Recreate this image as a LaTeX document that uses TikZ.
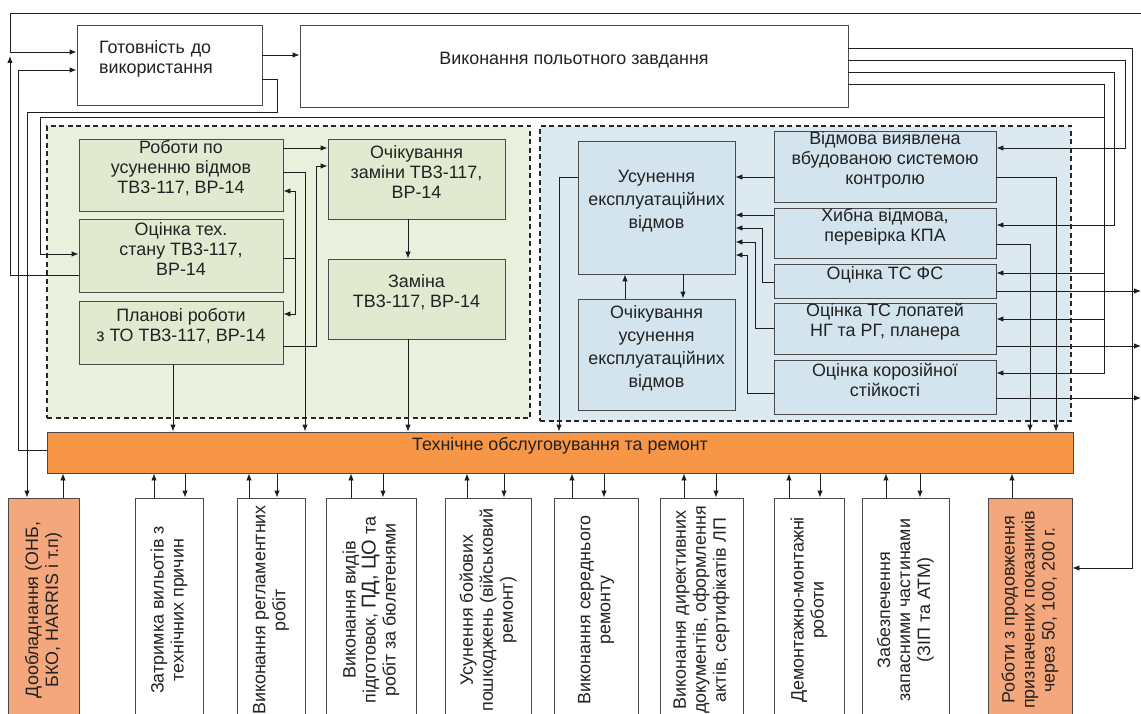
\documentclass[tikz,border=0pt]{standalone}
\usepackage{fontspec}
\setmainfont{Liberation Sans}
\usetikzlibrary{arrows.meta,fit}
\definecolor{txt}{HTML}{222222}
\definecolor{lc}{HTML}{1E1E1E}
\definecolor{bord}{HTML}{4A4A4A}
\definecolor{gregc}{HTML}{EAF0DE}
\definecolor{gboxc}{HTML}{E2E9D1}
\definecolor{bregc}{HTML}{DCE9F1}
\definecolor{bboxc}{HTML}{D3E4EE}
\definecolor{orc}{HTML}{F79646}
\definecolor{salc}{HTML}{F4A77C}
\begin{document}
\begin{tikzpicture}[x=1pt,y=-1pt,
  every node/.style={font=\fontsize{17.9}{20}\selectfont, text=txt, inner sep=0pt, align=center},
  wbox/.style={draw=bord, fill=white, line width=0.9pt},
  gbox/.style={draw=bord, fill=gboxc, line width=0.9pt},
  bbox/.style={draw=bord, fill=bboxc, line width=0.9pt},
  obox/.style={draw=bord, fill=orc, line width=0.9pt},
  sbox/.style={draw=bord, fill=salc, line width=0.9pt},
  vbx/.style={rotate=90, minimum width=224pt, minimum height=#1},
  region/.style={draw=black!85, dash pattern=on 5pt off 3.5pt, line width=1.1pt},
  conn/.style={draw=lc, line width=0.9pt},
  arr/.style={conn, -{Latex[length=7pt,width=5.5pt]}},
  wide/.style={font=\fontsize{17.9}{23}\selectfont}
]
\useasboundingbox (0,0) rectangle (1141,714);
\clip (0,0) rectangle (1141,714);
\fill[white] (0,0) rectangle (1141,714);

% regions
\node[region, fill=gregc, fit={(47,126) (530,418)}] (greg) {};
\node[region, fill=bregc, fit={(540,126) (1071,421)}] (breg) {};

% top boxes
\node[wbox, minimum width=185pt, minimum height=80pt, text width=141pt, align=left] (got) at (169.5,65) {Готовність до\\використання\\[-4pt]\mbox{}};
\node[wbox, fit={(300,25) (848,107)}] (vyk) {Виконання польотного завдання};

% green boxes
\node[gbox, fit={(79,139) (283,211)}] (rob) {Роботи по\\усуненню відмов\\ТВ3-117, ВР-14};
\node[gbox, fit={(79,219) (283,292)}] (ots) {Оцінка тех.\\стану ТВ3-117,\\ВР-14};
\node[gbox, fit={(79,301) (283,364)}] (plan) {Планові роботи\\з ТО ТВ3-117, ВР-14};
\node[gbox, fit={(328,139) (505,219)}] (ochz) {Очікування\\заміни ТВ3-117,\\ВР-14};
\node[gbox, fit={(328,259) (505,339)}] (zam) {Заміна\\ТВ3-117, ВР-14};

% blue boxes
\node[bbox, wide, fit={(578,141) (735,274)}] (usun) {Усунення\\експлуатаційних\\відмов};
\node[bbox, wide, fit={(578,299) (735,410)}] (ochu) {Очікування\\усунення\\експлуатаційних\\відмов};
\node[bbox, fit={(774,131) (996,202)}] (vbud) {Відмова виявлена\\вбудованою системою\\контролю};
\node[bbox, fit={(774,208) (996,258)}] (khyb) {Хибна відмова,\\перевірка КПА};
\node[bbox, fit={(774,264) (996,298)}] (tsfs) {Оцінка ТС ФС};
\node[bbox, fit={(774,303) (996,354)}] (lop) {Оцінка ТС лопатей\\НГ та РГ, планера};
\node[bbox, fit={(774,360) (996,414)}] (kor) {Оцінка корозійної\\стійкості};

% orange bar
\node[obox, fit={(47,432) (1073,473)}] (tor) {Технічне обслуговування та ремонт};

% bottom boxes (text turned to read upwards)
\node[sbox, vbx=71pt] (b1) at (43.5,610) {Дообладнання (ОНБ,\\БКО, HARRIS і т.п)};
\node[wbox, vbx=68pt] (b2) at (169,610) {Затримка вильотів з\\технічних причин};
\node[wbox, vbx=68pt] (b3) at (271,610) {Виконання регламентних\\робіт};
\node[wbox, vbx=90pt] (b4) at (371,610) {Виконання видів\\підготовок, {\fontsize{20}{20}\selectfont ПД, ЦО} та\\робіт за бюлетенями};
\node[wbox, vbx=86pt] (b5) at (488,610) {Усунення бойових\\пошкоджень (військовий\\ремонт)};
\node[wbox, vbx=84pt] (b6) at (596,610) {Виконання середнього\\ремонту};
\node[wbox, vbx=83pt] (b7) at (701.5,610) {Виконання директивних\\документів, оформлення\\актів, сертифікатів ЛП};
\node[wbox, vbx=70pt] (b8) at (809,610) {Демонтажно-монтажні\\роботи};
\node[wbox, vbx=87pt] (b9) at (905.5,610) {Забезпечення\\запасними частинами\\(ЗІП та АТМ)};
\node[sbox, vbx=84pt] (b10) at (1030,610) {Роботи з продовження\\призначених показників\\через 50, 100, 200 г.};

% free ends at the right edge
\coordinate (topR) at (1141,13);
\coordinate (rA) at (1141,291);
\coordinate (rB) at (1141,346);
\coordinate (rC) at (1141,398);

% top connectors
\draw[arr] (got.east |- 0,55) -- (vyk.west |- 0,55);
\draw[arr] (topR) -- (10,13) -- (10,52) -- (got.west |- 0,52);
\draw[arr] (ots.west |- 0,275) -- (10,275) -- (10,56);
\draw[arr] (tor.west |- 0,450) -- (18,450) -- (18,70) -- (got.west |- 0,70);
\draw[arr] (got.east |- 0,79) -- (277,79) -- (277,112) -- (27,112) -- (27,0 |- b1.east);
\draw[arr] (vyk.east |- 0,48) -- (1132,48) -- (1132,568) -- (b10.south |- 0,568);
\draw[arr] (vyk.east |- 0,60) -- (1125,60) -- (1125,148) -- (vbud.east |- 0,148);
\draw[arr] (vyk.east |- 0,72) -- (1114,72) -- (1114,225) -- (khyb.east |- 0,225);
\draw[arr] (vyk.east |- 0,84) -- (1104,84) -- (1104,373) -- (kor.east |- 0,373);
\draw[arr] (1104,273) -- (tsfs.east |- 0,273);
\draw[arr] (1104,319) -- (lop.east |- 0,319);
\draw[arr] (1104,117) -- (40,117) -- (40,254) -- (ots.west |- 0,254);

% green region connectors
\draw[arr] (rob.east |- 0,148) -- (ochz.west |- 0,148);
\draw[arr] (rob.east |- 0,172) -- (305,172) -- (305,0 |- tor.north);
\draw[conn] (ots.east |- 0,258) -- (295,258);
\draw[arr] (295,258) -- (295,191) -- (rob.east |- 0,191);
\draw[arr] (295,258) -- (295,314) -- (plan.east |- 0,314);
\draw[arr] (plan.east |- 0,346) -- (316,346) -- (316,166) -- (ochz.west |- 0,166);
\draw[arr] (408,0 |- ochz.south) -- (408,0 |- zam.north);
\draw[arr] (408,0 |- zam.south) -- (408,0 |- tor.north);
\draw[arr] (173,0 |- plan.south) -- (173,0 |- tor.north);

% blue region connectors
\draw[arr] (usun.west |- 0,177) -- (559,177) -- (559,0 |- tor.north);
\draw[arr] (625,0 |- ochu.north) -- (625,0 |- usun.south);
\draw[arr] (683,0 |- usun.south) -- (683,0 |- ochu.north);
\draw[arr] (vbud.west |- 0,177) -- (usun.east |- 0,177);
\draw[arr] (khyb.west |- 0,215) -- (usun.east |- 0,215);
\draw[arr] (tsfs.west |- 0,282) -- (762,282) -- (762,228) -- (usun.east |- 0,228);
\draw[arr] (lop.west |- 0,328) -- (755,328) -- (755,242) -- (usun.east |- 0,242);
\draw[arr] (kor.west |- 0,393) -- (747,393) -- (747,255) -- (usun.east |- 0,255);
\draw[arr] (vbud.east |- 0,177) -- (1056,177) -- (1056,0 |- tor.north);
\draw[arr] (khyb.east |- 0,244) -- (1030,244) -- (1030,0 |- tor.north);
\draw[arr] (tsfs.east |- 0,291) -- (rA);
\draw[arr] (lop.east |- 0,346) -- (rB);
\draw[arr] (kor.east |- 0,398) -- (rC);

% bottom connectors (east = top edge of the turned boxes)
\draw[arr] (63,0 |- b1.east) -- (63,0 |- tor.south);
\foreach \n/\u/\d in {b2/154/185, b3/249/277, b4/351/383, b5/467/504, b6/572/604, b7/684/716, b8/789/820, b9/886/920} {
  \draw[arr] (\u,0 |- \n.east) -- (\u,0 |- tor.south);
  \draw[arr] (\d,0 |- tor.south) -- (\d,0 |- \n.east);
}
\draw[arr] (1012,0 |- b10.east) -- (1012,0 |- tor.south);
\end{tikzpicture}
\end{document}
